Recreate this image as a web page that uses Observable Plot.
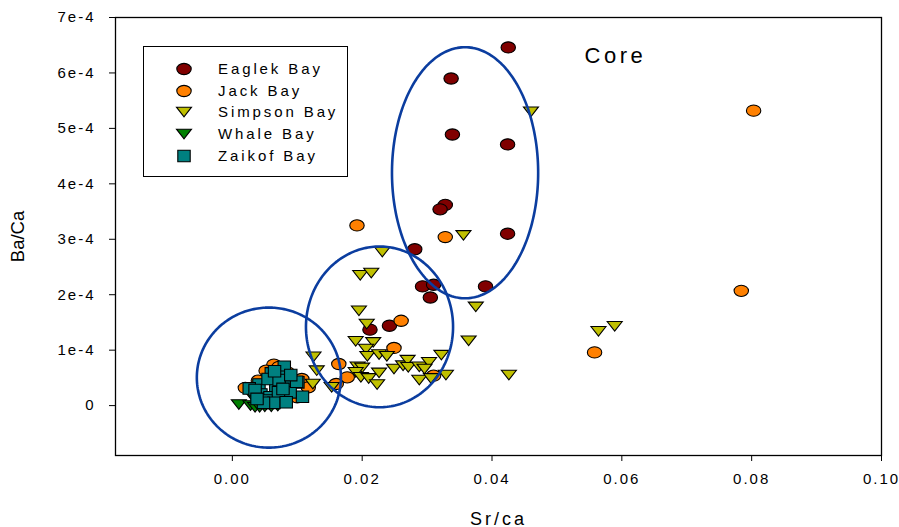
<!DOCTYPE html>
<html>
<head>
<meta charset="utf-8">
<script src="https://cdn.jsdelivr.net/npm/d3@7"></script>
<script src="https://cdn.jsdelivr.net/npm/@observablehq/plot@0.6"></script>
<style>
  html, body { margin: 0; padding: 0; background: #fff; }
  #wrap { position: relative; width: 899px; height: 527px; overflow: hidden; font-family: "Liberation Sans", Arial, sans-serif; }
  #wrap svg text { font-family: "Liberation Sans", Arial, sans-serif; }
  g[aria-label="x-axis tick label"] text, g[aria-label="y-axis tick label"] text { letter-spacing: 2px; font-size: 15px; }
  #legend { position: absolute; left: 143px; top: 46px; width: 205px; height: 131px; border: 1px solid #000; background: #fff; box-sizing: border-box; }
  .row { position: absolute; left: 0; height: 20px; width: 100%; }
  .row svg { position: absolute; left: 29px; top: 2px; }
  .row span { position: absolute; left: 74px; top: 1px; font-size: 15px; letter-spacing: 2.9px; line-height: 18px; color: #000; white-space: nowrap; }
</style>
</head>
<body>
<div id="wrap"></div>
<script>
// ---- Data (Sr/Ca on x, Ba/Ca on y) ----
const seriesNames = ["Eaglek Bay", "Jack Bay", "Simpson Bay", "Whale Bay", "Zaikof Bay"];
const seriesColors = ["#800000", "#ff8000", "#c0c000", "#008000", "#008080"];
const seriesShapes = ["ellipse", "ellipse", "triangleDown", "triangleDown", "square"];

const eaglekSr = [0.0425, 0.0337, 0.0339, 0.0424, 0.0328, 0.0320, 0.0424, 0.0281, 0.0293, 0.0310, 0.0305, 0.0390, 0.0242, 0.0212];
const eaglekBa = [6.46e-4, 5.90e-4, 4.89e-4, 4.71e-4, 3.62e-4, 3.54e-4, 3.10e-4, 2.82e-4, 2.15e-4, 2.18e-4, 1.95e-4, 2.15e-4, 1.44e-4, 1.37e-4];

const jackSr = [0.0803, 0.0784, 0.0558, 0.0328, 0.0192, 0.0260, 0.0249, 0.0164, 0.0177, 0.0160, 0.0310, 0.0064, 0.0052, 0.0020, 0.0107, 0.0117, 0.0100, 0.0040, 0.0085, 0.0075, 0.0072];
const jackBa = [5.32e-4, 2.07e-4, 0.96e-4, 3.04e-4, 3.25e-4, 1.53e-4, 1.04e-4, 0.75e-4, 0.51e-4, 0.39e-4, 0.54e-4, 0.74e-4, 0.63e-4, 0.32e-4, 0.48e-4, 0.33e-4, 0.15e-4, 0.45e-4, 0.60e-4, 0.20e-4, 0.70e-4];

const simpsonSr = [0.0460, 0.0356, 0.0375, 0.0564, 0.0589, 0.0426, 0.0231, 0.0197, 0.0214, 0.0195, 0.0207, 0.0190, 0.0217, 0.0206, 0.0208, 0.0226, 0.0238, 0.0322, 0.0364, 0.0125, 0.0130, 0.0124, 0.0153, 0.0193, 0.0200, 0.0190, 0.0198, 0.0210, 0.0223, 0.0226, 0.0249, 0.0263, 0.0270, 0.0271, 0.0288, 0.0303, 0.0296, 0.0288, 0.0306, 0.0329];
const simpsonBa = [5.30e-4, 3.07e-4, 1.78e-4, 1.34e-4, 1.43e-4, 0.55e-4, 2.77e-4, 2.35e-4, 2.39e-4, 1.71e-4, 1.47e-4, 1.16e-4, 1.14e-4, 1.02e-4, 0.89e-4, 0.92e-4, 0.89e-4, 0.91e-4, 1.17e-4, 0.88e-4, 0.63e-4, 0.39e-4, 0.33e-4, 0.70e-4, 0.68e-4, 0.60e-4, 0.51e-4, 0.49e-4, 0.38e-4, 0.59e-4, 0.66e-4, 0.72e-4, 0.82e-4, 0.69e-4, 0.70e-4, 0.78e-4, 0.66e-4, 0.46e-4, 0.49e-4, 0.55e-4];

const whaleSr = [0.0010, 0.0028, 0.0035, 0.0042, 0.0050, 0.0060, 0.0070, 0.0030, 0.0045];
const whaleBa = [0.02e-4, 0.00e-4, -0.03e-4, -0.03e-4, -0.02e-4, -0.02e-4, -0.01e-4, 0.18e-4, 0.10e-4];

const zaikofSr = [0.0080, 0.0060, 0.0081, 0.0041, 0.0067, 0.0086, 0.0101, 0.0026, 0.0044, 0.0058, 0.0076, 0.0108, 0.0053, 0.0089, 0.0055, 0.0071, 0.0099, 0.0035, 0.0064, 0.0083, 0.0048, 0.0072, 0.0090, 0.0078, 0.0038, 0.0065];
const zaikofBa = [0.70e-4, 0.58e-4, 0.52e-4, 0.38e-4, 0.36e-4, 0.39e-4, 0.42e-4, 0.31e-4, 0.20e-4, 0.15e-4, 0.10e-4, 0.16e-4, 0.09e-4, 0.24e-4, 0.48e-4, 0.24e-4, 0.43e-4, 0.28e-4, 0.05e-4, 0.06e-4, 0.05e-4, 0.46e-4, 0.55e-4, 0.30e-4, 0.12e-4, 0.62e-4];

// Grouping ellipses (centre and radii in data units)
const ellipseCx = [0.00563, 0.02267, 0.03585];
const ellipseCy = [0.505e-4, 1.42e-4, 4.20e-4];
const ellipseRx = [0.0111, 0.01133, 0.01126];
const ellipseRy = [1.263e-4, 1.449e-4, 2.264e-4];

const xTicks = [0, 0.02, 0.04, 0.06, 0.08, 0.10];
const yTicks = [0, 1e-4, 2e-4, 3e-4, 4e-4, 5e-4, 6e-4, 7e-4];
const yTickLabels = ["0", "1e-4", "2e-4", "3e-4", "4e-4", "5e-4", "6e-4", "7e-4"];
const xTitle = "Sr/ca";
const yTitle = "Ba/Ca";
const annotText = ["Core"];
const annotX = [0.059];
const annotY = [6.31e-4];

// ---- Marker shapes ----
const K = 0.5523;
const shapes = {
  ellipse: { draw(c) { const rx = 7.2, ry = 5.6;
    c.moveTo(rx, 0);
    c.bezierCurveTo(rx, ry * K, rx * K, ry, 0, ry);
    c.bezierCurveTo(-rx * K, ry, -rx, ry * K, -rx, 0);
    c.bezierCurveTo(-rx, -ry * K, -rx * K, -ry, 0, -ry);
    c.bezierCurveTo(rx * K, -ry, rx, -ry * K, rx, 0);
    c.closePath(); } },
  triangleDown: { draw(c) { c.moveTo(-7.5, -4.8); c.lineTo(7.5, -4.8); c.lineTo(0, 4.8); c.closePath(); } },
  square: { draw(c) { c.moveTo(-6.2, -5.8); c.lineTo(6.2, -5.8); c.lineTo(6.2, 5.8); c.lineTo(-6.2, 5.8); c.closePath(); } }
};

const seriesXs = [eaglekSr, jackSr, simpsonSr, whaleSr, zaikofSr];
const seriesYs = [eaglekBa, jackBa, simpsonBa, whaleBa, zaikofBa];

const pointMarks = seriesNames.map((name, i) => {
  const rows = seriesXs[i].map((x, j) => ({ x, y: seriesYs[i][j] }));
  return Plot.dot(rows, { x: "x", y: "y", symbol: shapes[seriesShapes[i]], r: 5, fill: seriesColors[i], stroke: "#000", strokeWidth: 1.1 });
});

const ellipsePts = [];
ellipseCx.forEach((cx, k) => {
  for (let t = 0; t <= 240; t++) {
    const a = (t / 240) * 2 * Math.PI;
    ellipsePts.push({ k, x: cx + ellipseRx[k] * Math.cos(a), y: ellipseCy[k] + ellipseRy[k] * Math.sin(a) });
  }
});

const annot = annotText.map((t, i) => ({ t, x: annotX[i], y: annotY[i] }));

const chart = Plot.plot({
  width: 899,
  height: 527,
  marginLeft: 115,
  marginRight: 18,
  marginTop: 17,
  marginBottom: 72,
  style: { fontFamily: "Liberation Sans, Arial, sans-serif", fontSize: "15px", color: "#000", background: "#fff", overflow: "visible" },
  x: { domain: [-0.018, 0.10], ticks: xTicks, tickFormat: d3.format(".2f"), tickSize: 6, tickPadding: 12, label: xTitle, labelAnchor: "center", labelArrow: "none", labelOffset: 69 },
  y: { domain: [-0.9e-4, 7e-4], ticks: yTicks, tickFormat: (d) => yTickLabels[yTicks.findIndex((v) => Math.abs(v - d) < 1e-9)], tickSize: 6, tickPadding: 14, label: yTitle, labelAnchor: "center", labelArrow: "none", labelOffset: 105 },
  marks: [
    ...pointMarks,
    Plot.line(ellipsePts, { x: "x", y: "y", z: "k", stroke: "#0b3d9f", strokeWidth: 2.6, curve: "linear" }),
    Plot.text(annot, { x: "x", y: "y", text: "t", fontSize: 22, fill: "#000" }),
    Plot.frame({ stroke: "#000", strokeWidth: 1.3 })
  ]
});

const wrap = document.getElementById("wrap");
wrap.appendChild(chart);
// text styling tweaks
chart.querySelectorAll("text").forEach((n) => {
  const s = n.textContent;
  if (s === xTitle) { n.style.fontSize = "18px"; n.style.letterSpacing = "3px"; }
  if (s === yTitle) { n.style.fontSize = "18.5px"; }
  if (annotText.includes(s)) { n.style.letterSpacing = "3.5px"; }
});

// ---- Legend ----
const legend = document.createElement("div");
legend.id = "legend";
seriesNames.forEach((name, i) => {
  const row = document.createElement("div");
  row.className = "row";
  row.style.top = (12 + i * 21.7) + "px";
  const svg = d3.create("svg").attr("width", 22).attr("height", 16).attr("viewBox", "-11 -8 22 16");
  svg.append("path").attr("d", d3.symbol(shapes[seriesShapes[i]])()).attr("fill", seriesColors[i]).attr("stroke", "#000").attr("stroke-width", 1.1);
  row.appendChild(svg.node());
  const span = document.createElement("span");
  span.textContent = name;
  row.appendChild(span);
  legend.appendChild(row);
});
wrap.appendChild(legend);
</script>
</body>
</html>
